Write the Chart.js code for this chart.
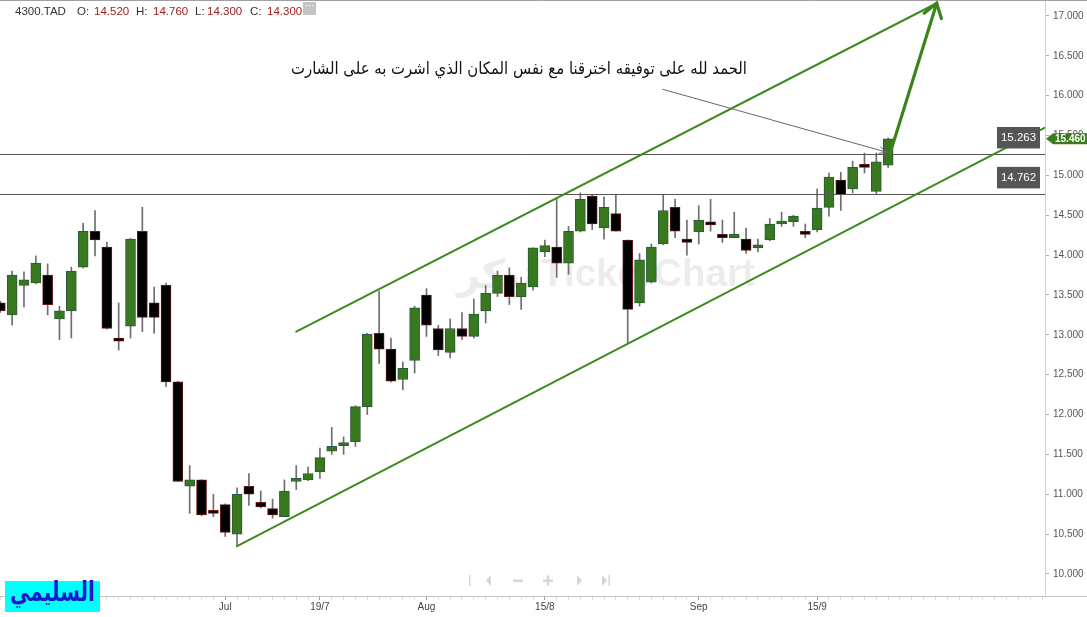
<!DOCTYPE html>
<html lang="ar">
<head>
<meta charset="UTF-8">
<title>4300.TAD</title>
<script src="https://cdn.jsdelivr.net/npm/chart.js"></script>
<style>
  html, body { margin: 0; padding: 0; background: #fff; }
  #wrap { width: 1087px; height: 617px; position: relative; }
</style>
</head>
<body>
<div id="wrap"><canvas id="myChart"></canvas></div>
<script>
// daily candles (index 0 = the half hidden one on the left)
const opens  = [13.40, 13.25, 13.62, 13.65, 13.75, 13.20, 13.30, 13.85, 14.30, 14.10,
                12.96, 13.11, 14.30, 13.40, 13.62, 12.41, 11.10, 11.18, 10.79, 10.87,
                10.50, 11.10, 10.90, 10.82, 10.72, 11.16, 11.18, 11.28, 11.54, 11.61,
                11.66, 12.10, 13.02, 12.82, 12.44, 12.68, 13.50, 13.08, 12.78, 13.08,
                12.98, 13.30, 13.52, 13.75, 13.48, 13.60, 14.04, 14.10, 13.90, 14.30,
                14.74, 14.34, 14.52, 14.19, 13.40, 13.66, 14.14, 14.60, 14.20, 14.29,
                14.40, 14.26, 14.22, 14.20, 14.09, 14.19, 14.39, 14.42, 14.30, 14.32,
                14.60, 14.94, 14.83, 15.13, 14.80, 15.13];
const highs  = [13.42, 13.80, 13.79, 13.99, 13.89, 13.36, 13.85, 14.40, 14.56, 14.16,
                13.40, 14.21, 14.60, 13.60, 13.65, 12.42, 11.36, 11.18, 11.00, 10.88,
                11.08, 11.26, 11.04, 10.94, 11.18, 11.36, 11.34, 11.58, 11.84, 11.72,
                12.11, 13.02, 13.55, 12.96, 12.66, 13.36, 13.58, 13.12, 13.20, 13.28,
                13.45, 13.62, 13.80, 13.84, 13.72, 14.09, 14.19, 14.70, 14.36, 14.78,
                14.75, 14.73, 14.76, 14.19, 14.02, 14.14, 14.76, 14.70, 14.44, 14.62,
                14.70, 14.44, 14.54, 14.34, 14.20, 14.46, 14.54, 14.50, 14.39, 14.83,
                15.03, 15.04, 15.18, 15.28, 15.28, 15.47];
const lows   = [13.28, 13.12, 13.35, 13.64, 13.25, 12.94, 12.96, 13.84, 13.99, 13.07,
                12.81, 12.96, 13.04, 13.02, 12.35, 11.16, 10.76, 10.73, 10.72, 10.47,
                10.34, 10.86, 10.83, 10.70, 10.72, 11.06, 11.17, 11.20, 11.50, 11.50,
                11.60, 12.00, 12.64, 12.41, 12.31, 12.52, 12.98, 12.74, 12.71, 12.94,
                12.96, 13.15, 13.48, 13.38, 13.32, 13.56, 13.98, 13.72, 13.76, 14.29,
                14.32, 14.20, 14.30, 12.89, 13.36, 13.65, 14.13, 14.22, 14.00, 14.14,
                14.30, 14.16, 14.22, 14.02, 14.04, 14.18, 14.36, 14.36, 14.22, 14.29,
                14.49, 14.56, 14.78, 15.03, 14.76, 15.10];
const closes = [13.30, 13.75, 13.69, 13.90, 13.38, 13.30, 13.80, 14.30, 14.19, 13.08,
                12.92, 14.20, 13.22, 13.22, 12.41, 11.16, 11.18, 10.74, 10.76, 10.52,
                11.00, 11.00, 10.84, 10.74, 11.04, 11.20, 11.26, 11.46, 11.60, 11.64,
                12.10, 13.01, 12.82, 12.42, 12.58, 13.34, 13.12, 12.81, 13.08, 12.98,
                13.26, 13.52, 13.75, 13.48, 13.65, 14.09, 14.12, 13.90, 14.30, 14.70,
                14.39, 14.60, 14.30, 13.32, 13.94, 14.10, 14.56, 14.30, 14.16, 14.44,
                14.38, 14.22, 14.26, 14.06, 14.10, 14.39, 14.42, 14.49, 14.26, 14.59,
                14.98, 14.76, 15.10, 15.10, 15.17, 15.46];

// date labels on the bottom axis (candle index -> text)
const dateTickIdx  = [19, 27, 36, 46, 59, 69];
const dateTickText = ['Jul', '19/7', 'Aug', '15/8', 'Sep', '15/9'];

// price labels on the right axis
const priceTicks = [10, 10.5, 11, 11.5, 12, 12.5, 13, 13.5, 14, 14.5, 15, 15.5, 16, 16.5, 17];

// horizontal levels
const levels = [15.263, 14.762];

// hand drawn lines, as [candle index, price]
const channelLow   = [[20.0, 10.35], [88.25, 15.60]];
const channelHigh  = [[25.0, 13.04], [79.1, 17.16]];
const breakoutLine = [[75.15, 15.27], [79.1, 17.16]];
const noteLine     = [[55.97, 16.08], [74.9, 15.29]];

const header = { sym: '4300.TAD', O: '14.520', H: '14.760', L: '14.300', C: '14.300' };
const noteText = 'الحمد لله على توفيقه اخترقنا مع نفس المكان الذي اشرت به على الشارت';
const authorText = 'السليمي';

const up = closes.map((c, i) => c >= opens[i]);

function fitFont(ctx, text, width, weight, family) {
  ctx.font = weight + ' 20px ' + family;
  const s = 20 * width / ctx.measureText(text).width;
  ctx.font = weight + ' ' + s.toFixed(2) + 'px ' + family;
}

// draw text at a given size, squeezed sideways to a given width
function squeezeText(ctx, text, x, y, width, font) {
  ctx.font = font;
  const w = ctx.measureText(text).width;
  ctx.save();
  ctx.translate(x, y);
  ctx.scale(width / w, 1);
  ctx.fillText(text, 0, 0);
  ctx.restore();
}

const overlay = {
  id: 'overlay',
  beforeDatasetsDraw(chart) {
    const c = chart.ctx;
    c.save();
    c.fillStyle = 'rgba(0,0,0,0.075)';
    c.textBaseline = 'alphabetic';
    fitFont(c, 'TickerChart', 214, 'bold', '"Liberation Sans", Arial');
    c.fillText('TickerChart', 541, 286);
    squeezeText(c, 'تيكر', 457, 288, 80, 'bold 40px "DejaVu Sans"');
    c.restore();
  },
  afterDatasetsDraw(chart) {
    const c = chart.ctx, xs = chart.scales.x, ys = chart.scales.y, a = chart.chartArea;
    const P = p => [xs.getPixelForValue(p[0]), ys.getPixelForValue(p[1])];
    const seg = (pts, col, w) => {
      const p0 = P(pts[0]), p1 = P(pts[1]);
      c.beginPath(); c.moveTo(p0[0], p0[1]); c.lineTo(p1[0], p1[1]);
      c.strokeStyle = col; c.lineWidth = w; c.stroke();
      return [p0, p1];
    };
    const head = (p0, p1, len, ang, col, w) => {
      const t = Math.atan2(p0[1] - p1[1], p0[0] - p1[0]);
      c.beginPath();
      c.moveTo(p1[0] + len * Math.cos(t - ang), p1[1] + len * Math.sin(t - ang));
      c.lineTo(p1[0], p1[1]);
      c.lineTo(p1[0] + len * Math.cos(t + ang), p1[1] + len * Math.sin(t + ang));
      c.strokeStyle = col; c.lineWidth = w; c.stroke();
    };
    c.save();
    c.beginPath(); c.rect(a.left, a.top, a.right - a.left, a.bottom - a.top); c.clip();
    c.lineCap = 'round';

    // levels
    levels.forEach(v => {
      const y = Math.round(ys.getPixelForValue(v)) + 0.5;
      c.beginPath(); c.moveTo(a.left, y); c.lineTo(a.right, y);
      c.strokeStyle = '#555'; c.lineWidth = 1; c.stroke();
    });

    seg(channelLow, '#3e8a1e', 2);
    seg(channelHigh, '#3e8a1e', 2);
    const b = seg(breakoutLine, '#3a8419', 3.2);
    head(b[0], b[1], 16, 0.6, '#3a8419', 3.2);
    const n = seg(noteLine, '#666', 1);
    head(n[0], n[1], 8, 0.4, '#666', 1);

    // level boxes
    c.font = '11.5px "Liberation Sans", Arial';
    c.textAlign = 'center'; c.textBaseline = 'middle';
    levels.forEach(v => {
      const y = ys.getPixelForValue(v);
      c.fillStyle = '#555';
      c.fillRect(997, y - 27.5, 43, 21.5);
      c.fillStyle = '#fff';
      c.fillText(v.toFixed(3), 1018.5, y - 16.5);
    });
    c.restore();

    // note text
    c.save();
    c.fillStyle = '#111';
    c.textBaseline = 'middle';
    squeezeText(c, noteText, 291, 70, 456, '17px "DejaVu Sans"');
    c.restore();
  },
  afterDraw(chart) {
    const c = chart.ctx, ys = chart.scales.y, a = chart.chartArea;
    c.save();
    // top border and axis line under the price column
    c.strokeStyle = '#a0a0a0'; c.lineWidth = 1;
    c.beginPath(); c.moveTo(0, 0.5); c.lineTo(chart.width, 0.5); c.stroke();
    c.strokeStyle = '#c0c0c0';
    c.beginPath(); c.moveTo(a.right, a.bottom + 0.5); c.lineTo(chart.width, a.bottom + 0.5); c.stroke();

    // last price tag
    const last = closes[closes.length - 1];
    const y = ys.getPixelForValue(last);
    c.fillStyle = '#3d7b1f';
    c.beginPath();
    c.moveTo(1046, y); c.lineTo(1053, y - 5.5); c.lineTo(1087, y - 5.5);
    c.lineTo(1087, y + 5.5); c.lineTo(1053, y + 5.5); c.closePath(); c.fill();
    c.fillStyle = '#fff';
    c.font = 'bold 10px "Liberation Sans", Arial';
    c.textBaseline = 'middle'; c.textAlign = 'left';
    c.fillText(last.toFixed(3), 1055, y + 0.5);

    // header line
    c.font = '11.5px "Liberation Sans", Arial';
    c.textBaseline = 'middle';
    const parts = [[header.sym, 15, '#333'], ['O:', 77, '#333'], [header.O, 94, '#a31b1b'],
                   ['H:', 136, '#333'], [header.H, 153, '#a31b1b'], ['L:', 195, '#333'],
                   [header.L, 207, '#a31b1b'], ['C:', 250, '#333'], [header.C, 267, '#a31b1b']];
    parts.forEach(p => { c.fillStyle = p[2]; c.fillText(p[0], p[1], 12); });
    c.fillStyle = '#c4c4c4';
    c.fillRect(303, 2, 13, 13);
    c.fillStyle = '#fff';
    [306.5, 309.5, 312.5].forEach(x => c.fillRect(x - 0.6, 5, 1.3, 1.3));

    // chart navigation icons
    c.fillStyle = '#d6d6d6';
    c.fillRect(469, 575, 1.5, 11);
    const tri = (x0, x1) => { c.beginPath(); c.moveTo(x0, 580.5); c.lineTo(x1, 575); c.lineTo(x1, 586); c.closePath(); c.fill(); };
    tri(486, 491);
    c.fillRect(513, 579.5, 10, 2.5);
    c.fillRect(543, 579.5, 10, 2.5); c.fillRect(546.8, 575.5, 2.5, 10);
    tri(582, 577);
    tri(607, 602);
    c.fillRect(608.5, 575, 1.5, 11);

    // author label
    c.fillStyle = '#00ffff';
    c.fillRect(5, 581, 95, 31);
    c.fillStyle = '#1a1acd';
    c.textAlign = 'left'; c.textBaseline = 'middle';
    squeezeText(c, authorText, 10, 594, 85, 'bold 27px "DejaVu Sans"');
    c.restore();
  }
};

new Chart(document.getElementById('myChart'), {
  type: 'bar',
  data: {
    datasets: [
      {
        label: 'body',
        data: opens.map((o, i) => ({ x: i, y: [o, closes[i]] })),
        backgroundColor: up.map(u => u ? '#38781f' : '#000000'),
        borderColor: up.map(u => u ? '#2a5a36' : '#641818'),
        borderWidth: 1,
        borderSkipped: false,
        barThickness: 10,
        minBarLength: 3,
        grouped: false,
        order: 0
      },
      {
        label: 'wick',
        data: lows.map((l, i) => ({ x: i, y: [l, highs[i]] })),
        backgroundColor: '#6e6e6e',
        barThickness: 1,
        grouped: false,
        order: 1
      }
    ]
  },
  options: {
    responsive: true,
    maintainAspectRatio: false,
    animation: false,
    layout: { padding: 0 },
    plugins: { legend: { display: false }, tooltip: { enabled: false } },
    scales: {
      x: {
        type: 'linear',
        min: -0.025,
        max: 88.25,
        offset: false,
        grid: {
          offset: false,
          drawOnChartArea: false,
          tickLength: 4,
          tickColor: ctx => dateTickIdx.includes(ctx.tick && ctx.tick.value) ? '#999' : '#e0e0e0'
        },
        border: { color: '#c0c0c0' },
        afterBuildTicks: s => { s.ticks = Array.from({ length: 89 }, (_, i) => ({ value: i })); },
        ticks: {
          autoSkip: false,
          maxRotation: 0,
          padding: 1,
          color: '#444',
          font: { family: '"Liberation Sans", Arial', size: 10 },
          callback: v => { const k = dateTickIdx.indexOf(v); return k < 0 ? '' : dateTickText[k]; }
        },
        afterFit: s => { s.height = 21; s.paddingLeft = 0; s.paddingRight = 0; }
      },
      y: {
        position: 'right',
        min: 9.7236,
        max: 17.2007,
        grid: { drawOnChartArea: false, tickLength: 4, color: '#b0b0b0' },
        border: { color: '#cfcfcf' },
        afterBuildTicks: s => { s.ticks = priceTicks.map(v => ({ value: v })); },
        ticks: {
          padding: 4,
          color: '#555',
          font: { family: '"Liberation Sans", Arial', size: 10 },
          callback: v => v.toFixed(3)
        },
        afterFit: s => { s.width = 42; s.paddingTop = 0; s.paddingBottom = 0; }
      }
    }
  },
  plugins: [overlay]
});
</script>
</body>
</html>
